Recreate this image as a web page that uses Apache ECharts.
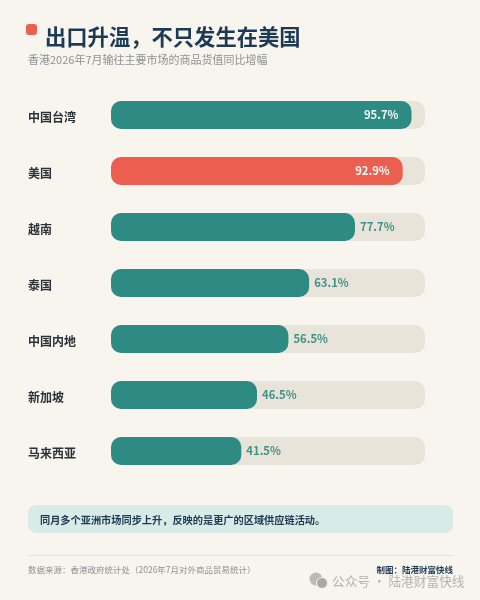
<!DOCTYPE html>
<html><head><meta charset="utf-8">
<style>html,body{margin:0;padding:0;background:#f8f5ef}#c{width:480px;height:600px}</style>
<script src="https://cdn.jsdelivr.net/npm/echarts@6/dist/echarts.min.js"></script>
</head><body><div id="c"></div>
<script>
const categories = ['中国台湾','美国','越南','泰国','中国内地','新加坡','马来西亚'];
const values = [95.7,92.9,77.7,63.1,56.5,46.5,41.5];
const highlight = '美国';
const titleText = '出口升温，不只发生在美国';
const subtitleText = '香港2026年7月输往主要市场的商品货值同比增幅';
const calloutText = '同月多个亚洲市场同步上升，反映的是更广的区域供应链活动。';
const sourceText = '数据来源：香港政府统计处（2026年7月对外商品贸易统计）';
const creditText = '制图：陆港财富快线';
const watermarkText = '公众号 · 陆港财富快线';
const FONT = '"Noto Sans CJK SC","Noto Sans",sans-serif';
const TEAL='#2d8b84', RED='#ec5f50', NAVY='#1d3a55';
const chart = echarts.init(document.getElementById('c'),null,{renderer:'canvas'});
chart.setOption({
  backgroundColor:'#f8f5ef',
  animation:false,
  textStyle:{fontFamily:FONT},
  grid:{left:111,top:87,width:314,height:392,containLabel:false},
  xAxis:{type:'value',min:0,max:100,show:false},
  yAxis:{type:'category',inverse:true,data:categories,
    axisLine:{show:false},axisTick:{show:false},splitLine:{show:false},
    axisLabel:{align:'left',margin:83,fontSize:12,fontWeight:700,color:'#2a3238',fontFamily:FONT,verticalAlign:'top',lineHeight:4}},
  series:[{type:'bar',barWidth:28,
    showBackground:true,
    backgroundStyle:{color:'#e8e4d9',borderRadius:10},
    data:values.map((v,i)=>({value:v,
      itemStyle:{color:categories[i]===highlight?RED:TEAL,borderRadius:10},
      label:{show:true,position:v>90?'insideRight':'right',
        distance:v>90?13:5,offset:[0,0],
        formatter:p=>p.value.toFixed(1)+'%',
        fontSize:11.3,fontWeight:700,fontFamily:FONT,
        color:v>90?'#f4f7f5':'#3d918a'}}))
  }],
  graphic:[
    {type:'rect',shape:{x:26,y:24,width:11,height:11,r:3},style:{fill:RED}},
    {type:'text',x:45,y:37,style:{text:titleText,fill:NAVY,font:'700 21.3px '+FONT,textVerticalAlign:'middle'}},
    {type:'text',x:28,y:60,style:{text:subtitleText,fill:'#8d9192',font:'400 11px '+FONT,textVerticalAlign:'middle'}},
    {type:'rect',shape:{x:28,y:505,width:425,height:28,r:8},style:{fill:'#d9ebe6'}},
    {type:'text',x:40,y:520,style:{text:calloutText,fill:NAVY,font:'700 10.2px '+FONT,textVerticalAlign:'middle'}},
    {type:'rect',shape:{x:28,y:555,width:425,height:1},style:{fill:'#e4e2db'}},
    {type:'text',x:28,y:570,style:{text:sourceText,fill:'#8d9192',font:'400 8.5px '+FONT,textVerticalAlign:'middle'}},
    {type:'text',x:453,y:570,style:{text:creditText,fill:NAVY,font:'700 8.5px '+FONT,textAlign:'right',textVerticalAlign:'middle'}},
    {type:'circle',shape:{cx:316,cy:579,r:6.5},style:{fill:'#b9b9b5'}},
    {type:'circle',shape:{cx:322,cy:583,r:5.5},style:{fill:'#a9a9a5',stroke:'#f8f5ef',lineWidth:1}},
    {type:'text',x:332,y:581,style:{text:watermarkText,fill:'#b3b3af',font:'400 12.7px '+FONT,textVerticalAlign:'middle'}}
  ]
});
</script></body></html>
